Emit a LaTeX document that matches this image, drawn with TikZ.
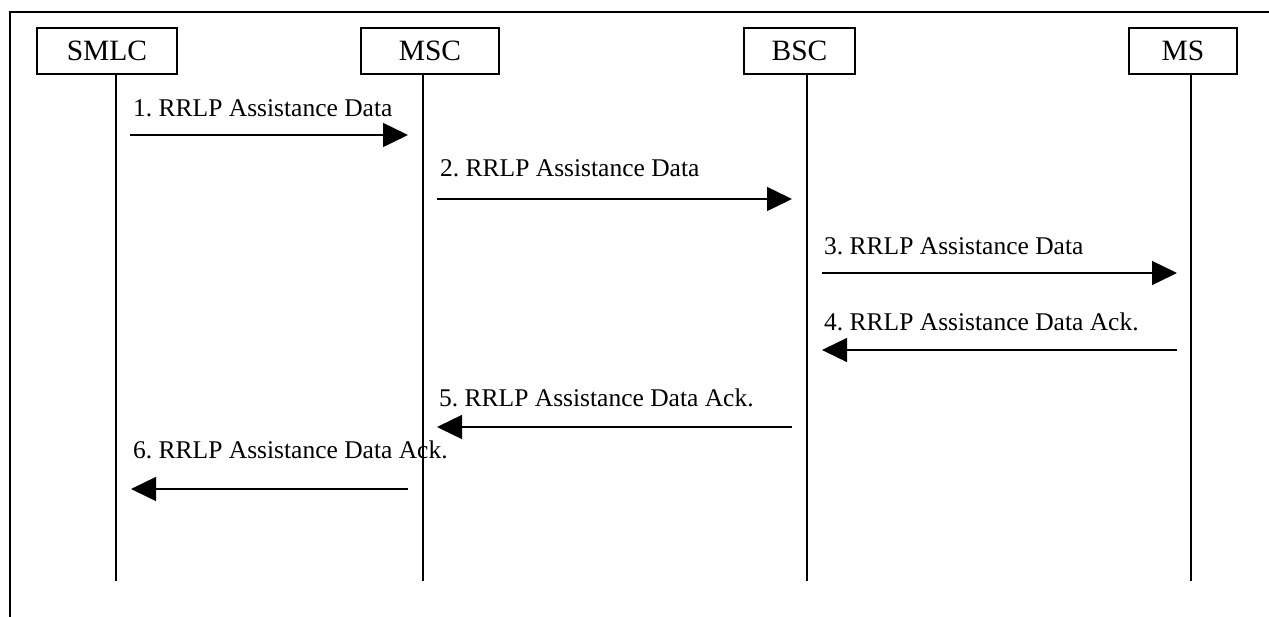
\documentclass[tikz,border=0pt]{standalone}
\usepackage{fontspec}
\setmainfont{Liberation Serif}
\usetikzlibrary{arrows.meta}
\frenchspacing
\tikzset{
  entity/.style={draw, line width=1.2pt, inner sep=0pt, minimum height=46pt, font=\fontsize{29.5}{32}\selectfont},
  lifeline/.style={line width=1.3pt},
  msg/.style={line width=1.4pt, -{Triangle[length=25pt,width=24pt]}},
  msglabel/.style={anchor=base west, inner sep=0pt, font=\fontsize{25.5}{28}\selectfont},
  frame/.style={line width=2pt}
}
\begin{document}
\begin{tikzpicture}[x=1pt,y=-1pt]
\useasboundingbox (0,0) rectangle (1269,616);
% frame (only top and left visible)
\coordinate (frTL) at (10,12);
\coordinate (frTR) at (1275,12);
\coordinate (frBL) at (10,622);
\draw[frame] (frBL) -- (frTL) -- (frTR);
% entities
\node[entity, minimum width=140pt] (smlc) at (107,51) {SMLC};
\node[entity, minimum width=138pt] (msc) at (430,51) {MSC};
\node[entity, minimum width=111pt] (bsc) at (799.5,51) {BSC};
\node[entity, minimum width=108pt] (ms) at (1183,51) {MS};
% lifelines
\coordinate (smlcT) at (116,74); \coordinate (smlcB) at (116,581);
\coordinate (mscT) at (423,74); \coordinate (mscB) at (423,581);
\coordinate (bscT) at (807,74); \coordinate (bscB) at (807,581);
\coordinate (msT) at (1191,74); \coordinate (msB) at (1191,581);
\draw[lifeline] (smlcT) -- (smlcB);
\draw[lifeline] (mscT) -- (mscB);
\draw[lifeline] (bscT) -- (bscB);
\draw[lifeline] (msT) -- (msB);
% messages
\coordinate (m1a) at (130,135); \coordinate (m1b) at (408,135);
\coordinate (m2a) at (437,199); \coordinate (m2b) at (792,199);
\coordinate (m3a) at (822,273); \coordinate (m3b) at (1177,273);
\coordinate (m4a) at (1177,350); \coordinate (m4b) at (822,350);
\coordinate (m5a) at (792,427); \coordinate (m5b) at (437,427);
\coordinate (m6a) at (408,489); \coordinate (m6b) at (131,489);
\draw[msg] (m1a) -- (m1b);
\draw[msg] (m2a) -- (m2b);
\draw[msg] (m3a) -- (m3b);
\draw[msg] (m4a) -- (m4b);
\draw[msg] (m5a) -- (m5b);
\draw[msg] (m6a) -- (m6b);
\node[msglabel] (l1) at (133,116) {1. RRLP Assistance Data};
\node[msglabel] (l2) at (440,176) {2. RRLP Assistance Data};
\node[msglabel] (l3) at (824,254) {3. RRLP Assistance Data};
\node[msglabel] (l4) at (824,330) {4. RRLP Assistance Data Ack.};
\node[msglabel] (l5) at (439,406) {5. RRLP Assistance Data Ack.};
\node[msglabel] (l6) at (133,458) {6. RRLP Assistance Data Ack.};
\end{tikzpicture}
\end{document}
